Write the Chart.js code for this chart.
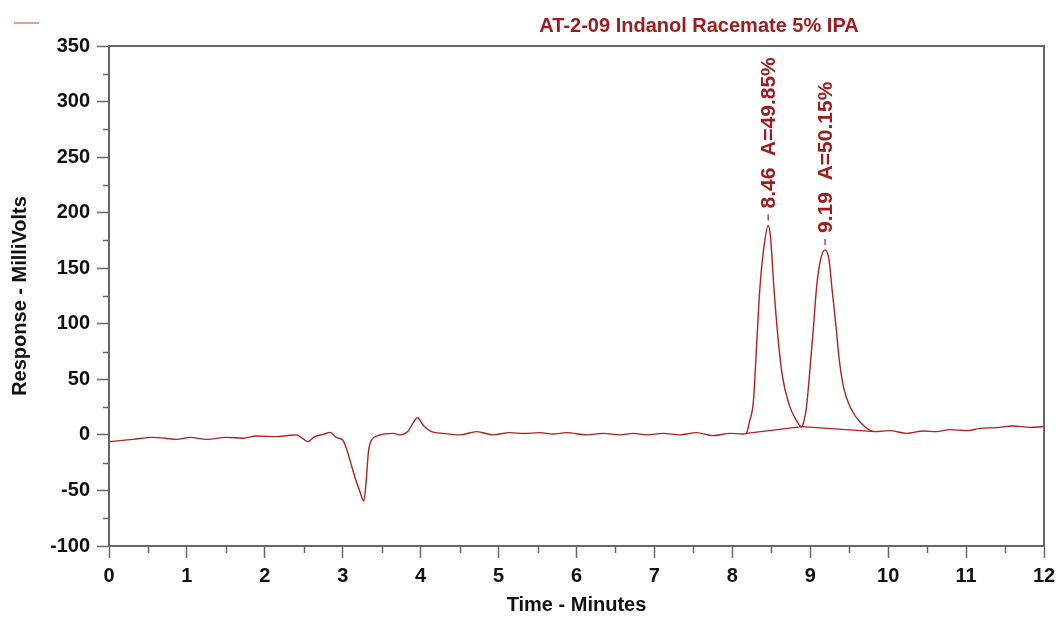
<!DOCTYPE html>
<html>
<head>
<meta charset="utf-8">
<script src="https://cdn.jsdelivr.net/npm/chart.js@4.4.1/dist/chart.umd.min.js"></script>
<style>
  html, body { margin: 0; padding: 0; background: #fff; }
</style>
</head>
<body>
<canvas id="chrom" width="1059" height="617"></canvas>
<script>
// detector trace (minutes, mV)
const times = [
  0.00, 0.14, 0.31, 0.56, 0.72, 0.87, 1.04, 1.25, 1.51, 1.72, 1.89, 2.15, 2.30, 2.41,
  2.47, 2.55, 2.64, 2.75, 2.84, 2.92, 3.00, 3.05, 3.11, 3.16, 3.21, 3.27, 3.30, 3.33, 3.37,
  3.45, 3.65, 3.73, 3.84, 3.90, 3.96, 4.03, 4.14, 4.29, 4.50, 4.72, 4.93, 5.14, 5.33,
  5.53, 5.70, 5.87, 6.13, 6.34, 6.56, 6.73, 6.90, 7.11, 7.33, 7.54, 7.75, 7.97, 8.14,
  8.18, 8.22, 8.27, 8.31, 8.35, 8.40, 8.46, 8.49, 8.53, 8.58, 8.64, 8.73, 8.83, 8.89,
  8.92, 8.95, 8.99, 9.04, 9.08, 9.13, 9.19, 9.24, 9.28, 9.33, 9.37, 9.43, 9.52, 9.65,
  9.83, 10.02, 10.24, 10.45, 10.62, 10.79, 11.01, 11.18, 11.39, 11.60, 11.82, 12.00
];
const millivolts = [
  -6.1, -5.2, -4.0, -2.2, -3.0, -4.0, -2.2, -4.0, -2.2, -3.0, -1.0, -1.6, -0.5, 0.0,
  -2.5, -6.1, -1.6, 0.5, 2.3, -2.5, -4.6, -13, -27, -39, -49, -59.5, -42, -15, -4.6,
  -0.7, 1.4, 0.0, 3.5, 10.4, 15.5, 8.9, 2.9, 1.4, 0.0, 2.9, 0.0, 2.0, 1.2,
  2.0, 0.8, 2.0, 0.0, 1.4, 0.0, 1.4, 0.0, 1.4, 0.0, 2.0, -0.7, 1.4, 0.8,
  1.4, 11.9, 29.9, 78.2, 128.6, 166, 188.5, 178, 136, 92, 54, 27, 12, 7.4,
  13, 24, 54, 96, 132, 157, 166.5, 158, 131, 98, 69, 42, 24, 10.7,
  2.9, 3.8, 1.4, 3.5, 2.9, 4.7, 3.8, 5.9, 6.5, 8.0, 6.8, 7.4
];

// integration baseline drawn under the two peaks
const baseTimes = [8.18, 8.89, 9.83];
const baseValues = [1.4, 7.4, 2.9];

// peak annotations
const peakTimes = [8.46, 9.19];
const peakHeights = [188.5, 166.5];
const peakAreas = ["49.85%", "50.15%"];

const chartTitle = "AT-2-09 Indanol Racemate 5% IPA";
const xMajor = 1;   // minutes between labelled ticks
const yMajor = 50;  // mV between labelled ticks

const traceColor = "#b0221c";
const textColor = "#a01c1c";
const axisColor = "#666";
const FONT = "'Liberation Sans', Arial, sans-serif";

const trace = times.map((t, i) => ({ x: t, y: millivolts[i] }));
const baseline = baseTimes.map((t, i) => ({ x: t, y: baseValues[i] }));

const isMajor = (v, step) => Math.abs(v / step - Math.round(v / step)) < 1e-6;

const decorations = {
  id: "decorations",
  afterDraw(chart) {
    const { ctx, chartArea: a, scales: { x, y } } = chart;
    ctx.save();

    // box around the plot
    ctx.strokeStyle = axisColor;
    ctx.lineWidth = 2;
    ctx.strokeRect(a.left, a.top, a.right - a.left, a.bottom - a.top);

    // short minor ticks
    ctx.lineWidth = 1.5;
    ctx.beginPath();
    x.ticks.forEach(t => {
      if (isMajor(t.value, xMajor)) return;
      const px = Math.round(x.getPixelForValue(t.value)) + 0.5;
      ctx.moveTo(px, a.bottom);
      ctx.lineTo(px, a.bottom + 7);
    });
    y.ticks.forEach(t => {
      if (isMajor(t.value, yMajor)) return;
      const py = Math.round(y.getPixelForValue(t.value)) + 0.5;
      ctx.moveTo(a.left, py);
      ctx.lineTo(a.left - 6, py);
    });
    ctx.stroke();

    // retention time / area labels above each peak
    ctx.fillStyle = textColor;
    ctx.strokeStyle = textColor;
    ctx.lineWidth = 1.2;
    ctx.font = "bold 21px " + FONT;
    peakTimes.forEach((t, i) => {
      const px = x.getPixelForValue(t);
      const py = y.getPixelForValue(peakHeights[i]);
      ctx.beginPath();
      ctx.moveTo(px, py - 5);
      ctx.lineTo(px, py - 11);
      ctx.stroke();
      ctx.save();
      ctx.translate(px, py - 17);
      ctx.rotate(-Math.PI / 2);
      ctx.textAlign = "left";
      ctx.textBaseline = "middle";
      ctx.fillText(t.toFixed(2) + "  A=" + peakAreas[i], 0, 1);
      ctx.restore();
    });

    // title
    ctx.font = "bold 20px " + FONT;
    ctx.textAlign = "center";
    ctx.textBaseline = "alphabetic";
    ctx.fillText(chartTitle, 699, 32);

    // legend swatch
    ctx.strokeStyle = traceColor;
    ctx.lineWidth = 1;
    ctx.globalAlpha = 0.85;
    ctx.beginPath();
    ctx.moveTo(14, 23);
    ctx.lineTo(39, 23);
    ctx.stroke();

    ctx.restore();
  }
};

new Chart(document.getElementById("chrom"), {
  type: "line",
  data: {
    datasets: [
      {
        label: "trace",
        data: trace,
        borderColor: traceColor,
        borderWidth: 1.4,
        pointRadius: 0,
        cubicInterpolationMode: "monotone",
        fill: false
      },
      {
        label: "baseline",
        data: baseline,
        borderColor: traceColor,
        borderWidth: 1.3,
        pointRadius: 0,
        tension: 0,
        fill: false
      }
    ]
  },
  options: {
    responsive: false,
    animation: false,
    layout: { padding: { top: 46, right: 15, left: 0, bottom: 0 } },
    plugins: { legend: { display: false }, tooltip: { enabled: false } },
    scales: {
      x: {
        type: "linear",
        min: 0,
        max: 12,
        afterFit: s => { s.height = 71; s.paddingLeft = 0; s.paddingRight = 0; },
        border: { display: true, color: axisColor, width: 2 },
        grid: {
          drawOnChartArea: false,
          tickLength: 12,
          tickWidth: 1.5,
          tickColor: c => isMajor(c.tick.value, xMajor) ? axisColor : "rgba(0,0,0,0)"
        },
        ticks: {
          stepSize: 0.5,
          autoSkip: false,
          maxRotation: 0,
          padding: 6,
          color: "#111",
          font: { family: FONT, size: 20, weight: "bold" },
          callback: v => isMajor(v, xMajor) ? String(v) : ""
        },
        title: {
          display: true,
          text: "Time - Minutes",
          color: "#111",
          font: { family: FONT, size: 20, weight: "bold" },
          padding: { top: 0, bottom: 0 }
        }
      },
      y: {
        min: -100,
        max: 350,
        afterFit: s => { s.width = 109; },
        border: { display: true, color: axisColor, width: 2 },
        grid: {
          drawOnChartArea: false,
          tickLength: 12,
          tickWidth: 1.5,
          tickColor: c => isMajor(c.tick.value, yMajor) ? axisColor : "rgba(0,0,0,0)"
        },
        ticks: {
          stepSize: 25,
          autoSkip: false,
          padding: 7,
          color: "#111",
          font: { family: FONT, size: 20, weight: "bold" },
          callback: v => isMajor(v, yMajor) ? String(v) : ""
        },
        title: {
          display: true,
          text: "Response - MilliVolts",
          color: "#111",
          font: { family: FONT, size: 20, weight: "bold" },
          padding: { top: 8, bottom: 0 }
        }
      }
    }
  },
  plugins: [decorations]
});
</script>
</body>
</html>
